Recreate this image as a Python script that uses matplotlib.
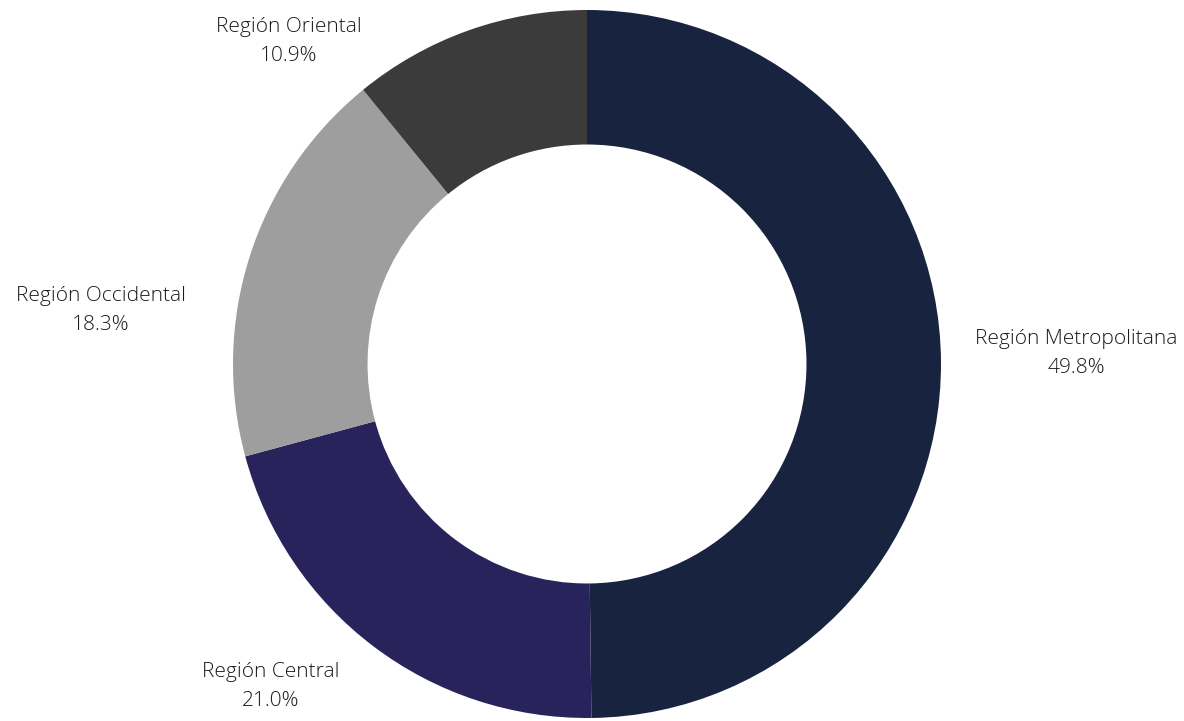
import matplotlib.pyplot as plt

regions = ['Región Metropolitana', 'Región Central', 'Región Occidental', 'Región Oriental']
shares = [49.8, 21.0, 18.3, 10.9]
colors = ['#18243f', '#29235c', '#9e9e9e', '#3b3b3b']

# label centres in pixels (from top-left)
label_px = [(1076, 353), (271, 687), (101, 310), (289, 41)]

W, H = 1184, 721
cx, cy, R = 587, 364, 354

fig = plt.figure(figsize=(W / 100, H / 100), dpi=100)
ax = fig.add_axes([0, 0, 1, 1])
ax.pie(shares, colors=colors, startangle=90, counterclock=False,
       radius=1, wedgeprops=dict(width=0.38, edgecolor='none'))
ax.set_xlim(-cx / R, (W - cx) / R)
ax.set_ylim(-(H - cy) / R, cy / R)
ax.set_aspect('equal')
ax.axis('off')

for name, val, (px, py) in zip(regions, shares, label_px):
    x = (px - cx) / R
    y = (cy - py) / R
    ax.text(x, y, f'{name}\n{val:.1f}%', ha='center', va='center',
            fontsize=15, family='Open Sans', fontweight='light',
            color='#1a1a1a', linespacing=1.6)

fig.savefig('out.png', dpi=100)
